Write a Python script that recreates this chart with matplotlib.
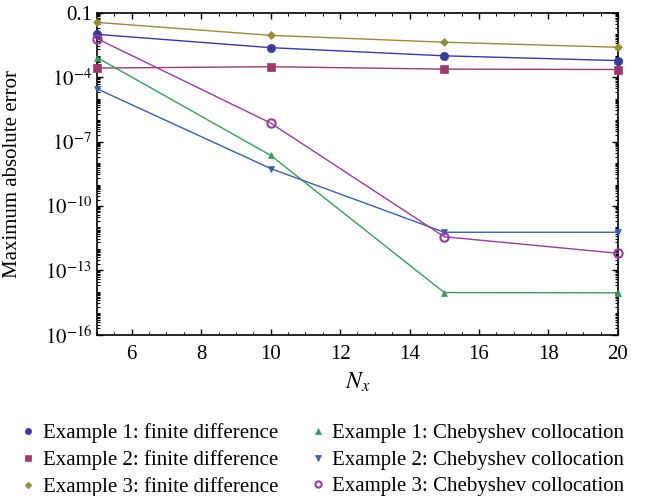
import matplotlib
matplotlib.use("Agg")
import matplotlib.pyplot as plt
from matplotlib.ticker import LogLocator, MultipleLocator, NullFormatter, FixedLocator
from matplotlib.lines import Line2D

plt.rcParams['font.family'] = ['Liberation Serif', 'DejaVu Serif']
plt.rcParams['mathtext.fontset'] = 'stix'

Nx = [5, 10, 15, 20]
fd1 = [1.0e-2, 2.4e-3, 1.0e-3, 6.0e-4]
fd2 = [2.7e-4, 3.1e-4, 2.4e-4, 2.3e-4]
fd3 = [3.6e-2, 9.0e-3, 4.3e-3, 2.5e-3]
ch1 = [8.3e-4, 2.3e-8, 9.3e-15, 9.0e-15]
ch2 = [2.9e-5, 5.6e-9, 6.0e-12, 6.0e-12]
ch3 = [6.3e-3, 7.4e-7, 3.7e-12, 6.3e-13]

labels = ["Example 1: finite difference", "Example 2: finite difference",
          "Example 3: finite difference", "Example 1: Chebyshev collocation",
          "Example 2: Chebyshev collocation", "Example 3: Chebyshev collocation"]

series = [fd1, fd2, fd3, ch1, ch2, ch3]
colors = ['#3b3b9b', '#9b3b6e', '#9b8a3b', '#3b9b5b', '#3b5fa8', '#9b3b9b']
markers = ['o', 's', 'D', '^', 'v', 'o']
msizes = [6, 6, 4.5, 5, 5, 6]
fills = [True, True, True, True, True, False]

fig = plt.figure(figsize=(6.47, 4.96), dpi=100)
ax = fig.add_axes([0.150, 0.325, 0.805, 0.649])

handles = []
for y, c, m, ms, f, lab in zip(series, colors, markers, msizes, fills, labels):
    ax.plot(Nx, y, color=c, lw=1.0, marker=m, markersize=ms,
            markerfacecolor=c if f else 'none', markeredgecolor=c,
            markeredgewidth=1.5 if not f else 0.5, clip_on=False, zorder=3)
    handles.append(Line2D([], [], linestyle='none', marker=m, color=c,
                          markersize=ms * 0.75, markerfacecolor=c if f else 'none',
                          markeredgecolor=c, markeredgewidth=1.5 if not f else 0.5,
                          label=lab))

ax.set_yscale('log')
ax.set_xlim(5, 20)
ax.set_ylim(1e-16, 1e-1)
ax.xaxis.set_major_locator(FixedLocator([6, 8, 10, 12, 14, 16, 18, 20]))
ax.xaxis.set_minor_locator(MultipleLocator(0.5))
yt = [1e-16, 1e-13, 1e-10, 1e-7, 1e-4, 1e-1]
ax.yaxis.set_major_locator(FixedLocator(yt))
ax.set_yticklabels([r'$10^{-16}$', r'$10^{-13}$', r'$10^{-10}$', r'$10^{-7}$', r'$10^{-4}$', '0.1'])
ax.yaxis.set_minor_locator(LogLocator(base=10, subs=[1, 2, 3, 4, 5, 6, 7, 8, 9], numticks=100))
ax.yaxis.set_minor_formatter(NullFormatter())
ax.tick_params(which='both', direction='in', top=True, right=True, labelsize=15, colors='black')
ax.tick_params(which='major', length=4, width=1)
ax.tick_params(which='minor', length=2.5, width=0.8)
ax.tick_params(axis='x', pad=7)
for s in ax.spines.values():
    s.set_linewidth(1.2)

ax.set_ylabel('Maximum absolute error', fontsize=15)
ax.yaxis.set_label_coords(-0.144, 0.5)
ax.set_xlabel(r'$N_x$', fontsize=17, labelpad=5)

fig.legend(handles=handles, ncol=2, loc='upper left', bbox_to_anchor=(0.0215, 0.163),
           borderaxespad=0, frameon=False, fontsize=15, handlelength=0.6,
           handletextpad=0.38, columnspacing=1.6, labelspacing=0.33)

fig.savefig('out.png', dpi=100)
